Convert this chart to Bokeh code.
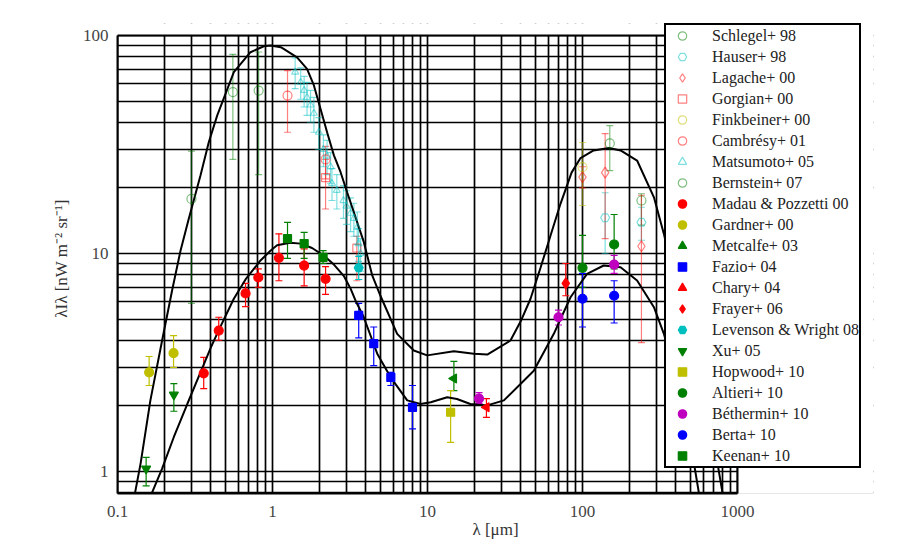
import math
from bokeh.plotting import figure
from bokeh.models import (ColumnDataSource, Whisker, TeeHead, Legend, LegendItem,
                          FixedTicker, CustomJSTickFormatter, Range1d, BoxAnnotation)
from bokeh.embed import file_html
from bokeh.resources import INLINE

# ---------------- model curves ----------------
UPPER_X = [0.127, 0.141, 0.163, 0.194, 0.225, 0.255, 0.288, 0.343, 0.388, 0.44, 0.563, 0.721,
           0.879, 0.97, 1.13, 1.18, 1.44, 1.67, 1.85, 2.04, 2.25, 2.49, 2.75, 3.03, 3.88, 4.4,
           4.97, 6.37, 8.16, 9.95, 14.8, 19.9, 24.3, 34.3, 40, 46.2, 53.6, 62, 72.1, 85, 97.1, 118,
           148, 176, 225, 289, 335, 400, 500, 600, 700, 800, 900]
UPPER_Y = [0.736, 1.09, 2.12, 3.99, 6.77, 10.3, 14.4, 22.8, 32.4, 43, 67.9, 83.8,
           89.3, 89.9, 88.4, 86.9, 79.4, 70.3, 59, 46.1, 36, 28.2, 23.6, 19.1, 11.3, 7.93,
           6.4, 4.28, 3.59, 3.41, 3.56, 3.47, 3.44, 3.99, 4.9, 6.2, 8.6, 12, 16.9, 23.5, 27.4, 29.7,
           30.5, 29.7, 26.7, 18.1, 12.3, 7.0, 4.0, 2.4, 1.4, 0.8, 0.5]

LOWER_X = [0.159, 0.194, 0.231, 0.282, 0.343, 0.40, 0.45, 0.563, 0.67, 0.837, 0.97, 1.07,
           1.3, 1.52, 1.8, 2.14, 2.49, 2.88, 3.19, 3.43, 3.88, 4.74, 5.77, 7.4, 9.01, 10.5,
           13.4, 15.5, 18.9, 24.3, 31.1, 39.8, 48.5, 65.3, 83.7, 107, 137, 176, 225, 289,
           335, 400, 500, 600]
LOWER_Y = [0.736, 1.03, 1.44, 2.04, 2.85, 3.7, 4.45, 6.2, 7.6, 9.29, 10.3, 10.9,
           11.2, 11.1, 10.6, 9.79, 8.9, 7.9, 6.9, 6.09, 5.1, 3.47, 2.71, 2.12, 2.04, 2.08,
           2.19, 2.15, 2.04, 2.01, 2.12, 2.52, 2.9, 4.28, 6.3, 8.07, 8.81, 8.65, 7.52, 5.67,
           4.28, 2.7, 1.33, 0.61]

# ---------------- data points: x, y, lower, upper ----------------
SCHLEGEL_X = [150, 240];  SCHLEGEL_Y = [32, 17.5];  SCHLEGEL_LO = [24, 13.5];  SCHLEGEL_HI = [38.6, 18.8]
HAUSER_X = [140, 240];    HAUSER_Y = [14.6, 13.9];  HAUSER_LO = [10.0, 11.5];  HAUSER_HI = [19, 16.3]
LAGACHE_X = [100, 140, 240]; LAGACHE_Y = [22.4, 23.5, 10.8]; LAGACHE_LO = [20, 11.7, 3.9]; LAGACHE_HI = [25, 35.5, 18.5]
GORJIAN_X = [2.2, 3.5];   GORJIAN_Y = [22.3, 10.6]; GORJIAN_LO = [16, 7.5];    GORJIAN_HI = [27, 12]
FINK_X = [100];           FINK_Y = [24.9];          FINK_LO = [16.6];          FINK_HI = [32.3]
CAMBRESY_X = [1.25, 2.2]; CAMBRESY_Y = [53, 27];    CAMBRESY_LO = [36, 22];    CAMBRESY_HI = [69, 31]
MATSU_X = [1.40, 1.52, 1.6, 1.67, 1.76, 1.85, 1.99, 2.13, 2.25, 2.37, 2.42, 2.6, 2.87, 3.0,
           3.19, 3.35, 3.52, 3.59, 3.7]
MATSU_Y = [68, 61, 56, 52, 48, 44, 36, 30, 28, 25, 21, 19.5, 17.5, 16.5, 15.3, 14.5, 13.2, 11.1, 10.0]
MATSU_LO = [57, 51, 47, 43, 40, 36, 30, 25, 23, 21, 17.5, 16, 14.5, 13.6, 12.6, 12, 11, 9.2, 8.3]
MATSU_HI = [79, 71, 65, 61, 56, 52, 42, 35, 33, 29, 24.5, 23, 20.5, 19.4, 18, 17, 15.5, 13, 11.7]
BERN_X = [0.3, 0.555, 0.814]; BERN_Y = [17.8, 55, 55.9]; BERN_LO = [5.9, 27, 23]; BERN_HI = [29.5, 82, 84]
MADAU_X = [0.36, 0.45, 0.67, 0.81, 1.1, 1.6, 2.2]
MADAU_Y = [2.82, 4.43, 6.56, 7.76, 9.55, 8.8, 7.65]
MADAU_LO = [2.4, 4.0, 5.7, 7.0, 7.5, 7.1, 6.5]
MADAU_HI = [3.34, 5.1, 7.3, 8.5, 12.3, 10.5, 8.7]
GARDNER_X = [0.16, 0.23]; GARDNER_Y = [2.85, 3.49]; GARDNER_LO = [2.48, 3.0]; GARDNER_HI = [3.37, 4.2]
METCALFE_X = [14.8];      METCALFE_Y = [2.67];      METCALFE_LO = [2.35];      METCALFE_HI = [3.2]
FAZIO_X = [3.6, 4.5, 5.8, 8.0]; FAZIO_Y = [5.2, 3.86, 2.7, 1.97]
FAZIO_LO = [4.1, 3.06, 2.48, 1.57]; FAZIO_HI = [5.9, 4.6, 2.85, 2.48]
CHARY_X = [24];           CHARY_Y = [1.97];         CHARY_LO = [1.77];         CHARY_HI = [2.16]
FRAYER_X = [78];          FRAYER_Y = [7.3];         FRAYER_LO = [6.4];         FRAYER_HI = [9.0]
LEVENSON_X = [3.6];       LEVENSON_Y = [8.6];       LEVENSON_LO = [7.6];       LEVENSON_HI = [9.7]
XU_X = [0.153, 0.231];    XU_Y = [1.03, 2.25];      XU_LO = [0.86, 1.89];      XU_HI = [1.16, 2.53]
HOPWOOD_X = [14.1];       HOPWOOD_Y = [1.87];       HOPWOOD_LO = [1.36];       HOPWOOD_HI = [2.35]
ALTIERI_X = [100, 160];   ALTIERI_Y = [8.6, 11.0];  ALTIERI_LO = [7.0, 8.5];   ALTIERI_HI = [12.1, 15.1]
BETH_X = [21.5, 70, 160]; BETH_Y = [2.16, 5.1, 8.9]; BETH_LO = [2.05, 4.7, 8.1]; BETH_HI = [2.3, 5.5, 9.8]
BERTA_X = [100, 160];     BERTA_Y = [6.2, 6.4];     BERTA_LO = [4.6, 4.8];     BERTA_HI = [8.1, 7.5]
KEENAN_X = [1.25, 1.6, 2.12]; KEENAN_Y = [11.7, 11.1, 9.6]; KEENAN_LO = [9.5, 9.5, 9.0]; KEENAN_HI = [13.9, 12.5, 10.3]

X_MAJOR = [0.1, 1, 10, 100, 1000]
Y_MAJOR = [1, 10, 100]
X_LIM = (0.1, 1000)
Y_LIM = (0.7927, 100)

GREEN, CYAN, RED, YELLOW, MAGENTA, BLUE = "#008000", "#00BFBF", "#FF0000", "#BFBF00", "#BF00BF", "#0000FF"
LEFT = math.pi / 2

SERIES = [
    # label, x, y, lo, hi, marker, color, filled, angle, size
    ("Schlegel+ 98", SCHLEGEL_X, SCHLEGEL_Y, SCHLEGEL_LO, SCHLEGEL_HI, "circle", GREEN, False, 0, 9),
    ("Hauser+ 98", HAUSER_X, HAUSER_Y, HAUSER_LO, HAUSER_HI, "hex", CYAN, False, 0, 9),
    ("Lagache+ 00", LAGACHE_X, LAGACHE_Y, LAGACHE_LO, LAGACHE_HI, "diamond", RED, False, 0, 11),
    ("Gorgian+ 00", GORJIAN_X, GORJIAN_Y, GORJIAN_LO, GORJIAN_HI, "square", RED, False, 0, 8),
    ("Finkbeiner+ 00", FINK_X, FINK_Y, FINK_LO, FINK_HI, "circle", YELLOW, False, 0, 9),
    ("Cambrésy+ 01", CAMBRESY_X, CAMBRESY_Y, CAMBRESY_LO, CAMBRESY_HI, "circle", RED, False, 0, 9),
    ("Matsumoto+ 05", MATSU_X, MATSU_Y, MATSU_LO, MATSU_HI, "triangle", CYAN, False, 0, 7),
    ("Bernstein+ 07", BERN_X, BERN_Y, BERN_LO, BERN_HI, "circle", GREEN, False, 0, 9),
    ("Madau & Pozzetti 00", MADAU_X, MADAU_Y, MADAU_LO, MADAU_HI, "circle", RED, True, 0, 9),
    ("Gardner+ 00", GARDNER_X, GARDNER_Y, GARDNER_LO, GARDNER_HI, "circle", YELLOW, True, 0, 9),
    ("Metcalfe+ 03", METCALFE_X, METCALFE_Y, METCALFE_LO, METCALFE_HI, "triangle", GREEN, True, LEFT, 9),
    ("Fazio+ 04", FAZIO_X, FAZIO_Y, FAZIO_LO, FAZIO_HI, "square", BLUE, True, 0, 8),
    ("Chary+ 04", CHARY_X, CHARY_Y, CHARY_LO, CHARY_HI, "triangle", RED, True, LEFT, 9),
    ("Frayer+ 06", FRAYER_X, FRAYER_Y, FRAYER_LO, FRAYER_HI, "diamond", RED, True, 0, 11),
    ("Levenson & Wright 08", LEVENSON_X, LEVENSON_Y, LEVENSON_LO, LEVENSON_HI, "hex", CYAN, True, 0, 9),
    ("Xu+ 05", XU_X, XU_Y, XU_LO, XU_HI, "inverted_triangle", GREEN, True, 0, 9),
    ("Hopwood+ 10", HOPWOOD_X, HOPWOOD_Y, HOPWOOD_LO, HOPWOOD_HI, "square", YELLOW, True, 0, 8),
    ("Altieri+ 10", ALTIERI_X, ALTIERI_Y, ALTIERI_LO, ALTIERI_HI, "circle", GREEN, True, 0, 9),
    ("Béthermin+ 10", BETH_X, BETH_Y, BETH_LO, BETH_HI, "circle", MAGENTA, True, 0, 9),
    ("Berta+ 10", BERTA_X, BERTA_Y, BERTA_LO, BERTA_HI, "circle", BLUE, True, 0, 9),
    ("Keenan+ 10", KEENAN_X, KEENAN_Y, KEENAN_LO, KEENAN_HI, "square", GREEN, True, 0, 8),
]

FONT = "Liberation Serif"

# Frame is extended right and up so the legend (which overhangs the axes box) is not clipped;
# the region outside the axes box is masked white.
PX_PER_DEC_X = 155.0
PX_PER_DEC_Y = 218.0
TOP_EXTRA = 12
FRAME_W = 756
FRAME_H = 458 + TOP_EXTRA
x_end = 10 ** (math.log10(X_LIM[0]) + FRAME_W / PX_PER_DEC_X)
y_end = 10 ** (math.log10(Y_LIM[1]) + TOP_EXTRA / PX_PER_DEC_Y)

p = figure(x_axis_type="log", y_axis_type="log",
           x_range=Range1d(X_LIM[0], x_end), y_range=Range1d(Y_LIM[0], y_end),
           frame_width=FRAME_W, frame_height=FRAME_H,
           min_border_left=117, min_border_top=35 - TOP_EXTRA, min_border_right=10, min_border_bottom=56,
           output_backend="svg", toolbar_location=None)
p.background_fill_color = "white"
p.border_fill_color = "white"
p.outline_line_color = None

x_minor = [m * d for d in [0.1, 1, 10, 100] for m in range(2, 10)]
y_minor = [0.8, 0.9] + [m * d for d in [1, 10] for m in range(2, 10)]
p.xaxis.ticker = FixedTicker(ticks=X_MAJOR, minor_ticks=x_minor)
p.yaxis.ticker = FixedTicker(ticks=Y_MAJOR, minor_ticks=y_minor)
p.xaxis.formatter = CustomJSTickFormatter(code="return tick < 1 ? tick.toFixed(1) : tick.toFixed(0);")
p.yaxis.formatter = CustomJSTickFormatter(code="return tick < 1 ? tick.toFixed(1) : tick.toFixed(0);")
p.xaxis.bounds = X_LIM
p.yaxis.bounds = Y_LIM

for ax in (p.xaxis, p.yaxis):
    ax.axis_line_color = "black"
    ax.axis_line_width = 2
    ax.major_tick_in = 0
    ax.major_tick_out = 0
    ax.minor_tick_in = 0
    ax.minor_tick_out = 0
    ax.major_label_text_font = FONT
    ax.major_label_text_font_size = "17px"
    ax.major_label_text_color = "#444444"
    ax.axis_label_text_font = FONT
    ax.axis_label_text_font_size = "17px"
    ax.axis_label_text_font_style = "normal"
    ax.axis_label_text_color = "#333333"

p.xaxis.axis_label = "λ [μm]"
p.yaxis.axis_label = "λIλ [nW m⁻² sr⁻¹]"
p.xaxis.major_label_standoff = 12
p.xaxis.axis_label_standoff = 0
p.yaxis.major_label_standoff = 9
p.yaxis.axis_label_standoff = 9

for g in (p.xgrid, p.ygrid):
    g.grid_line_color = "black"
    g.grid_line_width = 1.7
    g.minor_grid_line_color = "black"
    g.minor_grid_line_width = 1.7

# mask everything outside the axes box
p.add_layout(BoxAnnotation(left=X_LIM[1], fill_color="white", fill_alpha=1.0, line_alpha=0, level="underlay"))
p.add_layout(BoxAnnotation(bottom=Y_LIM[1], fill_color="white", fill_alpha=1.0, line_alpha=0, level="underlay"))

p.line(UPPER_X, UPPER_Y, line_color="black", line_width=2)
p.line(LOWER_X, LOWER_Y, line_color="black", line_width=2)

items = []
for label, xs, ys, lo, hi, marker, color, filled, ang, size in SERIES:
    alpha = 1.0 if filled else 0.5
    src = ColumnDataSource(dict(x=xs, y=ys, lo=lo, hi=hi))
    w = Whisker(source=src, base="x", upper="hi", lower="lo", dimension="height",
                line_color=color, line_alpha=alpha, line_width=1.2,
                upper_head=TeeHead(size=7, line_color=color, line_alpha=alpha, line_width=1.2),
                lower_head=TeeHead(size=7, line_color=color, line_alpha=alpha, line_width=1.2))
    p.add_layout(w)
    r = p.scatter("x", "y", source=src, marker=marker, size=size, angle=ang,
                  line_color=color, line_alpha=alpha, line_width=1.2,
                  fill_color=color if filled else None, fill_alpha=alpha)
    items.append(LegendItem(label=label, renderers=[r]))

# axes box (top and right spines)
p.quad(left=X_LIM[0], right=X_LIM[1], bottom=Y_LIM[0], top=Y_LIM[1],
       fill_color=None, line_color="black", line_width=2)

legend = Legend(items=items, location=(547, 25),
                glyph_height=21, glyph_width=32, label_height=21, spacing=0,
                padding=0, margin=0, label_standoff=14,
                label_text_font=FONT, label_text_font_size="16px", label_text_color="#222222",
                border_line_color="black", border_line_width=2, border_line_alpha=1.0,
                background_fill_color="white", background_fill_alpha=1.0)
p.add_layout(legend)

open("out.html", "w").write(file_html(p, INLINE))
